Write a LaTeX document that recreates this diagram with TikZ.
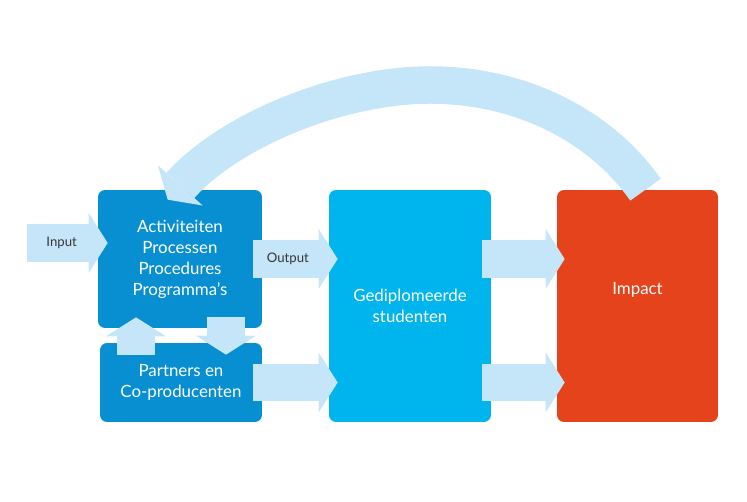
\documentclass[tikz,border=0pt]{standalone}
\usepackage{fontspec}
\setmainfont{Lato}
\usetikzlibrary{arrows.meta,calc}

\definecolor{actblue}{RGB}{8,143,210}
\definecolor{gradblue}{RGB}{0,181,238}
\definecolor{impred}{RGB}{229,67,28}
\definecolor{arrowblue}{RGB}{197,229,248}
\definecolor{lblgray}{RGB}{55,55,55}

\begin{document}
\begin{tikzpicture}[x=0.02cm, y=-0.02cm,
  box/.style={rounded corners=0.14cm, text=white, align=center, inner sep=0pt,
    font={\fontsize{9.6}{12}\selectfont}},
  blockarrow/.style={draw=arrowblue, line width=0.75cm,
    -{Triangle[length=0.38cm, width=1.2cm, line width=0pt]}},
  lbl/.style={text=lblgray, font={\fontsize{7.5}{9}\selectfont}}]
\useasboundingbox (0,0) rectangle (747,502);
\node [box, fill=actblue, minimum width=3.28cm, minimum height=2.76cm] (act) at (180,259) {Activiteiten\\Processen\\Procedures\\Programma’s};
\node [box, fill=actblue, minimum width=3.24cm, minimum height=1.58cm] (part) at (181,382.5) {Partners en\\Co-producenten};
\node [box, fill=gradblue, minimum width=3.24cm, minimum height=4.64cm] (grad) at (410,306) {Gediplomeerde\\studenten};
\node [box, fill=impred, minimum width=3.22cm, minimum height=4.64cm, label={[box, yshift=0.32cm]center:Impact}] (imp) at (637.5,306) {};
\coordinate (in) at (27,243);
\coordinate (tail) at ($(imp.north)+(8,0)$);
\coordinate (top) at (430,85);
\coordinate (tip) at ($(act.north west)+(70,10)$);
\draw [blockarrow] (in) -- ($(act.west |- in)+(10,0)$) node [lbl, pos=0.43] {Input};
\draw [blockarrow] ($(act.east)+(-9,0)$) -- ($(grad.west |- act.east)+(9,0)$) node [lbl, pos=0.41] {Output};
\draw [blockarrow] ($(part.east)+(-9,0)$) -- ($(grad.west |- part.east)+(9,0)$);
\draw [blockarrow] ($(grad.east |- act.east)+(-9,0)$) -- ($(imp.west |- act.east)+(8,0)$);
\draw [blockarrow] ($(grad.east |- part.east)+(-9,0)$) -- ($(imp.west |- part.east)+(8,0)$);
\draw [blockarrow] ($(part.north)+(-45,12)$) -- ($(act.south)+(-44,-11)$);
\draw [blockarrow] ($(act.south)+(46,-11)$) -- ($(part.north)+(45,12)$);
\draw [blockarrow] (tail) .. controls (600,125) and (520,85) .. (top) .. controls (340,85) and (230,130) .. (tip);
\end{tikzpicture}
\end{document}
